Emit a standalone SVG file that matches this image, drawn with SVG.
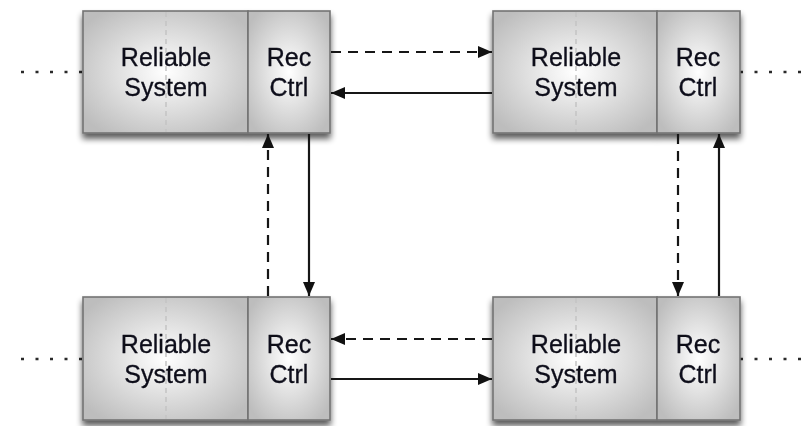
<svg xmlns="http://www.w3.org/2000/svg" width="801" height="426" viewBox="0 0 801 426">
  <defs>
    <radialGradient id="boxFill" cx="50%" cy="50%" r="62%">
      <stop offset="0" stop-color="#ffffff"/>
      <stop offset="1" stop-color="#bdbdbd"/>
    </radialGradient>
    <filter id="shadow" x="-10%" y="-10%" width="120%" height="130%">
      <feGaussianBlur in="SourceAlpha" stdDeviation="3"/>
      <feOffset dx="0" dy="5" result="b"/>
      <feComponentTransfer><feFuncA type="linear" slope="0.65"/></feComponentTransfer>
      <feMerge><feMergeNode/><feMergeNode in="SourceGraphic"/></feMerge>
    </filter>
    <marker id="arrow" viewBox="0 0 14 12" refX="14" refY="6" markerWidth="14" markerHeight="12" markerUnits="userSpaceOnUse" orient="auto">
      <path d="M0,0 L14,6 L0,12 z" fill="#111"/>
    </marker>
  </defs>
  <style>
    .part { fill: url(#boxFill); stroke: #737373; stroke-width: 1.6; }
    .mid { stroke: #c4c4c4; stroke-width: 1.5; stroke-dasharray: 5 4; fill: none; }
    .lbl { font-family: "Liberation Sans", Arial, sans-serif; font-size: 25px; fill: #0e0e1a; text-anchor: middle; stroke: #0e0e1a; stroke-width: 0.3; }
    .solid { stroke: #161616; stroke-width: 2.2; fill: none; marker-end: url(#arrow); }
    .dash { stroke: #161616; stroke-width: 2.2; fill: none; stroke-dasharray: 10 7; marker-end: url(#arrow); }
    .dots { stroke: #2a2a2a; stroke-width: 2.5; fill: none; stroke-dasharray: 3 11.5; }
  </style>

  <!-- outbound dotted links -->
  <g id="outer-links">
    <line class="dots" x1="21" y1="72" x2="83" y2="72"/>
    <line class="dots" x1="21" y1="359" x2="83" y2="359"/>
    <line class="dots" x1="740" y1="72" x2="801" y2="72"/>
    <line class="dots" x1="740" y1="359" x2="801" y2="359"/>
  </g>

  <g id="node-top-left" filter="url(#shadow)">
    <rect class="part" x="83" y="11" width="165" height="122"/>
    <rect class="part" x="248" y="11" width="82" height="122"/>
    <line class="mid" x1="166" y1="12" x2="166" y2="132"/>
    <text class="lbl" x="166" y="66">Reliable</text>
    <text class="lbl" x="166" y="96">System</text>
    <text class="lbl" x="289" y="66">Rec</text>
    <text class="lbl" x="289" y="96">Ctrl</text>
  </g>

  <g id="node-top-right" filter="url(#shadow)">
    <rect class="part" x="493" y="11" width="164" height="122"/>
    <rect class="part" x="657" y="11" width="83" height="122"/>
    <line class="mid" x1="576" y1="12" x2="576" y2="132"/>
    <text class="lbl" x="576" y="66">Reliable</text>
    <text class="lbl" x="576" y="96">System</text>
    <text class="lbl" x="698" y="66">Rec</text>
    <text class="lbl" x="698" y="96">Ctrl</text>
  </g>

  <g id="node-bottom-left" filter="url(#shadow)">
    <rect class="part" x="83" y="297" width="165" height="123"/>
    <rect class="part" x="248" y="297" width="82" height="123"/>
    <line class="mid" x1="166" y1="298" x2="166" y2="419"/>
    <text class="lbl" x="166" y="353">Reliable</text>
    <text class="lbl" x="166" y="383">System</text>
    <text class="lbl" x="289" y="353">Rec</text>
    <text class="lbl" x="289" y="383">Ctrl</text>
  </g>

  <g id="node-bottom-right" filter="url(#shadow)">
    <rect class="part" x="493" y="297" width="164" height="123"/>
    <rect class="part" x="657" y="297" width="83" height="123"/>
    <line class="mid" x1="576" y1="298" x2="576" y2="419"/>
    <text class="lbl" x="576" y="353">Reliable</text>
    <text class="lbl" x="576" y="383">System</text>
    <text class="lbl" x="698" y="353">Rec</text>
    <text class="lbl" x="698" y="383">Ctrl</text>
  </g>

  <g id="connectors">
    <!-- top row -->
    <line class="dash" x1="331" y1="52" x2="492" y2="52"/>
    <line class="solid" x1="492" y1="93" x2="331" y2="93"/>
    <!-- left column -->
    <line class="dash" x1="268" y1="296" x2="268" y2="134"/>
    <line class="solid" x1="309" y1="134" x2="309" y2="296"/>
    <!-- right column -->
    <line class="dash" x1="678" y1="134" x2="678" y2="296"/>
    <line class="solid" x1="719" y1="296" x2="719" y2="134"/>
    <!-- bottom row -->
    <line class="dash" x1="492" y1="339" x2="331" y2="339"/>
    <line class="solid" x1="331" y1="379" x2="492" y2="379"/>
  </g>
</svg>
